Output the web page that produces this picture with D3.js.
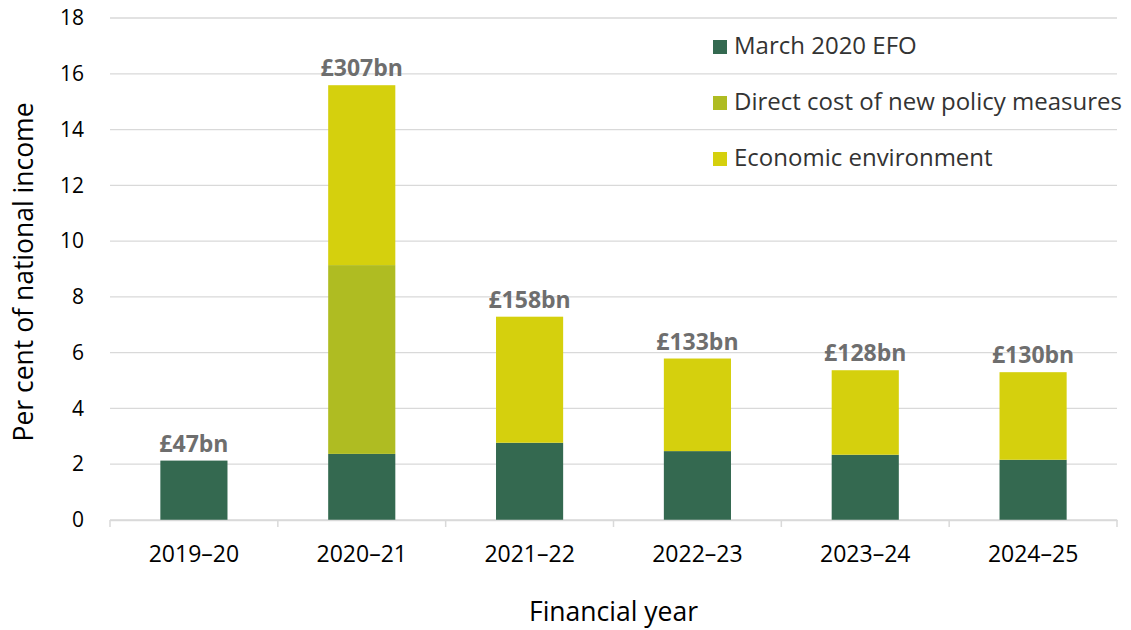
<!DOCTYPE html>
<html>
<head>
<meta charset="utf-8">
<script src="https://cdnjs.cloudflare.com/ajax/libs/d3/7.8.5/d3.min.js"></script>
<style>
  body { margin: 0; background: #fff; }
  text { font-family: "Open Sans", "Noto Sans", sans-serif; }
</style>
</head>
<body>
<script>
// data
var years = ["2019\u201320", "2020\u201321", "2021\u201322", "2022\u201323", "2023\u201324", "2024\u201325"];
var marchEfo = [2.13, 2.37, 2.77, 2.47, 2.34, 2.16];
var policyCost = [0, 6.77, 0, 0, 0, 0];
var economicEnv = [0, 6.45, 4.52, 3.32, 3.03, 3.14];
var totalLabels = ["£47bn", "£307bn", "£158bn", "£133bn", "£128bn", "£130bn"];
var seriesNames = ["March 2020 EFO", "Direct cost of new policy measures", "Economic environment"];
var yTicks = [0, 2, 4, 6, 8, 10, 12, 14, 16, 18];

window.onload = function() {

  var width = 1131;
  var height = 630;

  // plot area
  var margin = {top: 18, right: 14, bottom: 110, left: 110};
  var w = width - margin.left - margin.right;
  var h = 520 - margin.top;

  var colors = ["#346950", "#afbc22", "#d5d00d"];

  var svg = d3.select("body")
              .append("svg")
              .attr("width", width)
              .attr("height", height);

  var g = svg.append("g")
             .attr("transform", "translate(" + margin.left + "," + margin.top + ")");

  // build rows for the stack
  var rows = years.map(function(y, i) {
    return {year: y, efo: marchEfo[i], policy: policyCost[i], econ: economicEnv[i], label: totalLabels[i]};
  });
  var keys = ["efo", "policy", "econ"];
  var stacked = d3.stack().keys(keys)(rows);

  var xScale = d3.scaleBand()
                 .domain(years)
                 .range([0, w])
                 .paddingInner(0.6)
                 .paddingOuter(0.3);

  var yScale = d3.scaleLinear()
                 .domain([0, 18])
                 .range([h, 0]);

  // gridlines
  g.selectAll(".grid")
   .data(yTicks)
   .enter()
   .append("line")
   .attr("x1", 0)
   .attr("x2", w)
   .attr("y1", function(d) { return yScale(d); })
   .attr("y2", function(d) { return yScale(d); })
   .style("stroke", "#d9d9d9")
   .style("stroke-width", 1.3);

  // y axis labels
  var yAxis = d3.axisLeft(yScale)
                .tickValues(yTicks)
                .tickSize(0)
                .tickPadding(26);
  var yGuide = g.append("g").call(yAxis);
  yGuide.select(".domain").remove();
  yGuide.selectAll("text")
        .style("font-size", "21px")
        .style("fill", "#000")
        .style("font-family", "'Open Sans', sans-serif");

  // bars
  g.selectAll(".layer")
   .data(stacked)
   .enter()
   .append("g")
   .attr("fill", function(d, i) { return colors[i]; })
   .selectAll("rect")
   .data(function(d) { return d; })
   .enter()
   .append("rect")
   .attr("x", function(d) { return xScale(d.data.year); })
   .attr("y", function(d) { return yScale(d[1]); })
   .attr("width", xScale.bandwidth())
   .attr("height", function(d) { return yScale(d[0]) - yScale(d[1]); });

  // x axis with ticks on band boundaries
  var xAxis = d3.axisBottom(xScale).tickSize(0).tickPadding(25.5);
  var xGuide = g.append("g")
                .attr("transform", "translate(0," + h + ")")
                .call(xAxis);
  xGuide.select(".domain")
        .style("stroke", "#d9d9d9")
        .style("stroke-width", 1.5);
  xGuide.selectAll("text")
        .style("font-size", "23px")
        .style("fill", "#000")
        .style("font-family", "'Open Sans', sans-serif");

  var bounds = d3.range(years.length + 1).map(function(i) { return i * w / years.length; });
  xGuide.selectAll(".bound")
        .data(bounds)
        .enter()
        .append("line")
        .attr("x1", function(d) { return d; })
        .attr("x2", function(d) { return d; })
        .attr("y1", 0)
        .attr("y2", 7)
        .style("stroke", "#d9d9d9")
        .style("stroke-width", 1.5);

  // totals above bars
  g.selectAll(".total")
   .data(rows)
   .enter()
   .append("text")
   .attr("x", function(d) { return xScale(d.year) + xScale.bandwidth() / 2; })
   .attr("y", function(d) { return yScale(d.efo + d.policy + d.econ) - 9; })
   .attr("text-anchor", "middle")
   .style("font-size", "23px")
   .style("font-weight", "bold")
   .style("fill", "#6e6e6e")
   .text(function(d) { return d.label; });

  // axis titles
  svg.append("text")
     .attr("x", margin.left + w / 2)
     .attr("y", 621)
     .attr("text-anchor", "middle")
     .style("font-size", "26.5px")
     .style("fill", "#000")
     .text("Financial year");

  svg.append("text")
     .attr("transform", "rotate(-90)")
     .attr("x", -272)
     .attr("y", 33)
     .attr("text-anchor", "middle")
     .style("font-size", "26.5px")
     .style("fill", "#000")
     .text("Per cent of national income");

  // legend
  var legend = svg.selectAll(".legend")
                  .data(seriesNames)
                  .enter()
                  .append("g")
                  .attr("transform", function(d, i) { return "translate(713," + (54 + i * 56) + ")"; });
  legend.append("rect")
        .attr("x", 0)
        .attr("y", -14)
        .attr("width", 14)
        .attr("height", 14)
        .attr("fill", function(d, i) { return colors[i]; });
  legend.append("text")
        .attr("x", 21)
        .attr("y", 0)
        .style("font-size", "24px")
        .style("fill", "#333")
        .text(function(d) { return d; });
};
</script>
</body>
</html>
